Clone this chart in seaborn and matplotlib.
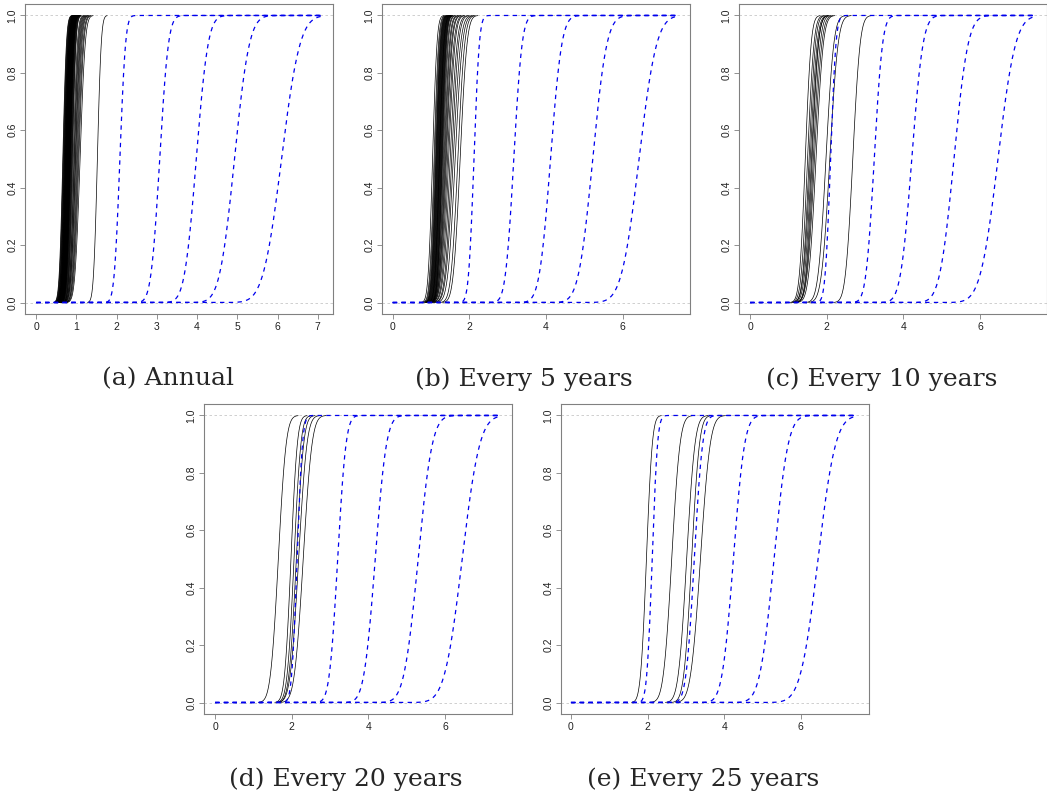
import math
import numpy as np
import pandas as pd
import matplotlib
matplotlib.use('Agg')
import matplotlib.pyplot as plt
import seaborn as sns

# captions of the five panels
captions = ['(a) Annual', '(b) Every 5 years', '(c) Every 10 years',
            '(d) Every 20 years', '(e) Every 25 years']
x_ticks = [[0, 1, 2, 3, 4, 5, 6, 7], [0, 2, 4, 6], [0, 2, 4, 6], [0, 2, 4, 6], [0, 2, 4, 6]]
x_max = [7.12, 7.46, 7.46, 7.46, 7.46]

# black curves: location (y=0.5 crossing) and spread
black_mid_a = [0.66, 0.67, 0.68, 0.69, 0.70, 0.70, 0.71, 0.72, 0.72, 0.73, 0.73, 0.74, 0.74,
               0.75, 0.75, 0.76, 0.76, 0.77, 0.77, 0.77, 0.78, 0.78, 0.79, 0.79, 0.80, 0.80,
               0.80, 0.81, 0.81, 0.82, 0.82, 0.83, 0.83, 0.84, 0.84, 0.85, 0.85, 0.86, 0.87,
               0.88, 0.89, 0.90, 0.92, 0.94, 0.95, 0.97, 0.98, 1.00, 1.02, 1.04, 1.06, 1.09, 1.52]
black_sd_a = [0.07] * 42 + [0.08, 0.08, 0.085, 0.085, 0.09, 0.09, 0.09, 0.095, 0.095, 0.10, 0.075]
black_mid_b = [1.04, 1.08, 1.10, 1.12, 1.13, 1.14, 1.15, 1.16, 1.17, 1.18, 1.19, 1.20, 1.21,
               1.22, 1.22, 1.23, 1.24, 1.25, 1.26, 1.27, 1.28, 1.29, 1.30, 1.32, 1.34, 1.36,
               1.38, 1.40, 1.43, 1.46, 1.50, 1.54, 1.58, 1.63, 1.70, 1.76]
black_sd_b = [0.09] * 22 + [0.10, 0.10, 0.11, 0.11, 0.12, 0.12, 0.13, 0.13, 0.14, 0.14,
                            0.15, 0.15, 0.14, 0.14]
black_mid_c = [1.44, 1.50, 1.54, 1.57, 1.60, 1.62, 1.65, 1.68, 1.72, 1.98, 2.08, 2.68]
black_sd_c = [0.12, 0.13, 0.13, 0.14, 0.14, 0.13, 0.14, 0.15, 0.15, 0.16, 0.17, 0.15]
black_mid_d = [1.65, 1.98, 2.06, 2.12, 2.18, 2.30]
black_sd_d = [0.16, 0.13, 0.14, 0.15, 0.17, 0.18]
black_mid_e = [1.97, 2.63, 3.02, 3.15, 3.38]
black_sd_e = [0.12, 0.17, 0.17, 0.16, 0.20]

# blue dashed reference curves
blue_mid_a = [2.08, 3.07, 3.98, 4.93, 6.10]
blue_mid_b = [2.12, 3.16, 4.12, 5.22, 6.43]
blue_mid_c = [2.10, 3.24, 4.22, 5.32, 6.47]
blue_mid_d = [2.14, 3.20, 4.18, 5.30, 6.45]
blue_mid_e = [2.12, 3.22, 4.24, 5.30, 6.45]
blue_sd = [0.11, 0.17, 0.23, 0.29, 0.36]

black_mid = [black_mid_a, black_mid_b, black_mid_c, black_mid_d, black_mid_e]
black_sd = [black_sd_a, black_sd_b, black_sd_c, black_sd_d, black_sd_e]
blue_mid = [blue_mid_a, blue_mid_b, blue_mid_c, blue_mid_d, blue_mid_e]

erf = np.vectorize(math.erf)


def cdf(x, m, s):
    return 0.5 * (1 + erf((x - m) / (s * math.sqrt(2))))


def curves(mids, sds, xmax, trim):
    xs = np.linspace(0, xmax, 700)
    rows = []
    for i, (m, s) in enumerate(zip(mids, sds)):
        y = cdf(xs, m, s)
        keep = (y > 0.0005) & (y < 0.9995) if trim else np.ones_like(y, bool)
        rows.append(pd.DataFrame({'x': xs[keep], 'F': y[keep], 'curve': i}))
    return pd.concat(rows, ignore_index=True)


sns.set_style('white')
plt.rcParams['font.family'] = ['Liberation Sans Narrow', 'Liberation Sans', 'DejaVu Sans']

W, H = 1047, 794
fig = plt.figure(figsize=(W / 100, H / 100), dpi=100)
boxes = [(25, 4), (382, 4), (739, 4), (204, 404), (561, 404)]
cap_pos = [(168, 379), (524, 379), (882, 379), (346, 779), (703, 779)]
xlims = [(-0.28, 7.38), (-0.28, 7.76), (-0.29, 7.75), (-0.29, 7.75), (-0.26, 7.78)]

for k in range(5):
    left, top = boxes[k]
    ax = fig.add_axes([left / W, 1 - (top + 310) / H, 308 / W, 310 / H])
    ax.axhline(0, color='#c8c8c8', lw=0.6, ls=(0, (3, 3)), zorder=1)
    ax.axhline(1, color='#c8c8c8', lw=0.6, ls=(0, (3, 3)), zorder=1)
    blk = curves(black_mid[k], black_sd[k], x_max[k], True)
    sns.lineplot(data=blk, x='x', y='F', units='curve', estimator=None, sort=False,
                 color='black', lw=0.5, ax=ax, zorder=2)
    blu = curves(blue_mid[k], blue_sd, x_max[k], False)
    sns.lineplot(data=blu, x='x', y='F', units='curve', estimator=None, sort=False,
                 color='#0000ee', lw=0.9, ls=(0, (3.5, 3.5)), ax=ax, zorder=3)
    ax.set_xlim(*xlims[k])
    ax.set_ylim(-0.04, 1.04)
    ax.set_xticks(x_ticks[k])
    ax.set_yticks([0, 0.2, 0.4, 0.6, 0.8, 1.0])
    ax.set_yticklabels(['0.0', '0.2', '0.4', '0.6', '0.8', '1.0'], rotation=90, va='center')
    ax.set_xlabel('')
    ax.set_ylabel('')
    for sp in ax.spines.values():
        sp.set_color('#808080')
        sp.set_linewidth(0.8)
    ax.tick_params(axis='both', which='both', direction='out', length=3.5, width=0.6,
                   color='#808080', labelsize=7.5, labelcolor='#222222', pad=2,
                   bottom=True, left=True)
    cx, cy = cap_pos[k]
    fig.text(cx / W, 1 - cy / H, captions[k], ha='center', va='center', fontsize=18,
             family=['DejaVu Serif'])

fig.savefig('out.png', dpi=100)
